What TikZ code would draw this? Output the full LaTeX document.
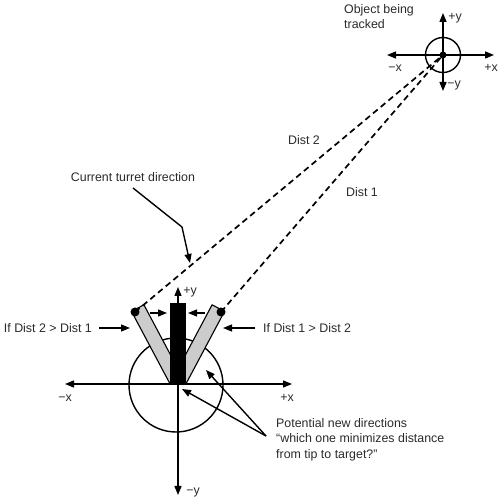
\documentclass[tikz,border=0pt]{standalone}
\usepackage{fontspec}
\setmainfont{Liberation Sans}
\usetikzlibrary{arrows.meta,calc,positioning}
\definecolor{ink}{HTML}{2A2A2A}
\definecolor{barpale}{HTML}{CCCCCC}

\begin{document}
\begin{tikzpicture}[x=1pt,y=1pt,>={Triangle[length=9pt,width=7pt]},
  lbl/.style={text=ink,inner sep=0pt,font=\fontsize{12.4}{15.5}\selectfont},
  axis/.style={<->,line width=1.4pt},
  pointer/.style={->,line width=1.4pt},
  sight/.style={line width=1.7pt,dash pattern=on 6pt off 4pt}]
\useasboundingbox (0,0) rectangle (500,504);
% the object being tracked
\coordinate (T) at (443,449);
\coordinate (Tl) at (387,449); \coordinate (Tr) at (494,449);
\coordinate (Tt) at (443,491); \coordinate (Tb) at (443,413);
\draw[line width=1.4pt] (T) circle (17.5);
\draw[axis] (Tl) -- (Tr);
\draw[axis] (Tb) -- (Tt);
\fill (T) circle (3.5);
\node[lbl] (tpy) at (455,486) {+y};
\node[lbl] (tmx) at (395,436) {−x};
\node[lbl] (tpx) at (491,436) {+x};
\node[lbl] (tmy) at (454,418) {−y};
\node[lbl,anchor=west,align=left] (obj) at (344,487.5) {Object being\\tracked};
% the turret
\coordinate (O) at (178,120);
\coordinate (Ol) at (65,120); \coordinate (Or) at (292,120);
\coordinate (Ot) at (178,217); \coordinate (Ob) at (178,9);
\draw[line width=1.4pt] (176,119) circle (47);
\draw[axis] (Ol) -- (Or);
\draw[axis] (Ob) -- (Ot);
\draw[line width=1.1pt,fill=barpale] (131.5,192.6) -- (143.9,199.2) -- (179,133.2) -- (179,120) -- (170.1,120) -- cycle;
\draw[line width=1.1pt,fill=barpale] (224.5,192.6) -- (212.1,199.2) -- (177,133.2) -- (177,120) -- (185.9,120) -- cycle;
\fill (170,120) rectangle (186,201);
\node[lbl] (opy) at (190,212) {+y};
\node[lbl] (omx) at (65,106) {−x};
\node[lbl] (opx) at (287,106) {+x};
\node[lbl] (omy) at (193,11) {−y};
% tips and the lines of sight
\coordinate (L) at (135,192);
\coordinate (R) at (221,192);
\fill (L) circle (4.5);
\fill (R) circle (4.5);
\draw[sight] (L) -- (T);
\draw[sight] (R) -- (T);
\node[lbl] (d2) at (304,364) {Dist 2};
\node[lbl] (d1) at (362,312) {Dist 1};
% small arrows towards the bar
\coordinate (sa) at (150,191); \coordinate (sb) at (167,191);
\coordinate (sc) at (205,191); \coordinate (sd) at (188,191);
\draw[pointer] (sa) -- (sb);
\draw[pointer] (sc) -- (sd);
% the two cases
\node[lbl,anchor=east] (ifl) at (92,176) {If Dist 2 > Dist 1};
\coordinate (il) at (130,176);
\draw[pointer] (ifl.east) ++(7,0) -- (il);
\node[lbl,anchor=west] (ifr) at (263,176) {If Dist 1 > Dist 2};
\coordinate (ir) at (223,176);
\draw[pointer] (ifr.west) ++(-8,0) -- (ir);
% current direction
\node[lbl] (cur) at (133,327) {Current turret direction};
\coordinate (c0) at (133,316); \coordinate (c1) at (182,277); \coordinate (c2) at (190,241);
\draw[pointer] (c0) -- (c1) -- (c2);
% potential new directions
\node[lbl,anchor=north west,align=left] (pot) at (276,86) {Potential new directions\\“which one minimizes distance\\from tip to target?”};
\coordinate (p0) at (266,68);
\coordinate (p1) at (206,134); \coordinate (p2) at (182,115);
\draw[pointer] (p0) -- (p1);
\draw[pointer] (p0) -- (p2);
\end{tikzpicture}
\end{document}
